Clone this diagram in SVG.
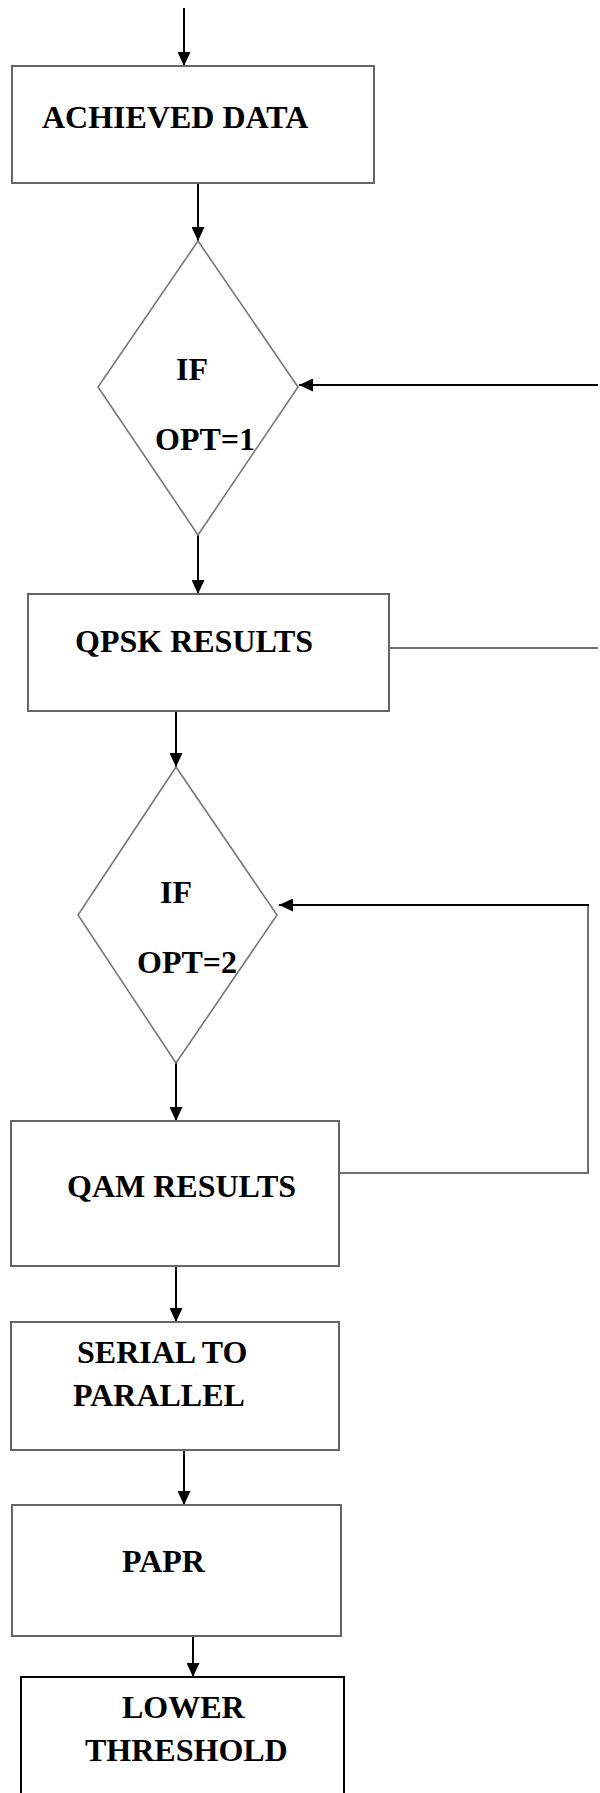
<svg xmlns="http://www.w3.org/2000/svg" width="600" height="1793" viewBox="0 0 600 1793">
<defs>
<marker id="ah" viewBox="0 0 14 13" refX="14" refY="6.5" markerWidth="14" markerHeight="13" markerUnits="userSpaceOnUse" orient="auto">
<path d="M0,0 L14,6.5 L0,13 z" fill="#000"/>
</marker>
<style>
.box{fill:#fff;stroke:#666;stroke-width:2}
.dia{fill:#fff;stroke:#777;stroke-width:1.6}
.blk{fill:#fff;stroke:#000;stroke-width:2}
.t{font-family:"Liberation Serif","Times New Roman",serif;font-weight:bold;font-size:32px;fill:#000}
.arr{fill:none;stroke:#000;stroke-width:2;marker-end:url(#ah)}
.gl{fill:none;stroke:#707070;stroke-width:2}
</style>
</defs>
<rect width="600" height="1793" fill="#fff"/>
<g id="connectors">
<path class="arr" d="M184,8 V66"/>
<path class="arr" d="M198,183 V241"/>
<path class="arr" d="M598,385 H299"/>
<path class="arr" d="M198,535 V594"/>
<path class="gl" d="M389,648 H598"/>
<path class="arr" d="M176,711 V767"/>
<path class="gl" d="M339,1173 H588 V905"/>
<path class="arr" d="M589,905 H279"/>
<path class="arr" d="M176,1063 V1121"/>
<path class="arr" d="M176,1266 V1322"/>
<path class="arr" d="M184,1450 V1505"/>
<path class="arr" d="M193,1636 V1677"/>
</g>
<g id="achieved">
<rect class="box" x="12" y="66" width="362" height="117"/>
<text class="t" x="42" y="128">ACHIEVED DATA</text>
</g>
<g id="if1">
<polygon class="dia" points="198,241 298,387 198,535 98,387"/>
<text class="t" x="176" y="380">IF</text>
<text class="t" x="155" y="450">OPT=1</text>
</g>
<g id="qpsk">
<rect class="box" x="28" y="594" width="361" height="117"/>
<text class="t" x="75" y="652">QPSK RESULTS</text>
</g>
<g id="if2">
<polygon class="dia" points="176,767 277,915 176,1063 78,915"/>
<text class="t" x="160" y="903">IF</text>
<text class="t" x="137" y="973">OPT=2</text>
</g>
<g id="qam">
<rect class="box" x="11" y="1121" width="328" height="145"/>
<text class="t" x="67" y="1197">QAM RESULTS</text>
</g>
<g id="serial">
<rect class="box" x="11" y="1322" width="328" height="128"/>
<text class="t" x="77" y="1363">SERIAL TO</text>
<text class="t" x="73" y="1406">PARALLEL</text>
</g>
<g id="papr">
<rect class="box" x="12" y="1505" width="329" height="131"/>
<text class="t" x="122" y="1572">PAPR</text>
</g>
<g id="lower">
<rect class="blk" x="21" y="1677" width="323" height="140"/>
<text class="t" x="122" y="1718">LOWER</text>
<text class="t" x="85" y="1761">THRESHOLD</text>
</g>
</svg>
